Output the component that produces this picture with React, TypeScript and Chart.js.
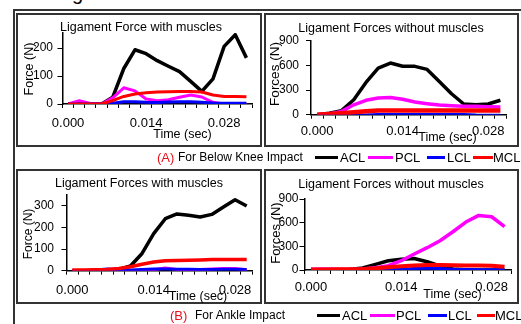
import React, { useEffect, useRef } from 'react';
import { Chart, registerables } from 'chart.js';

Chart.register(...registerables);

// ---------- data ----------
const seriesNames = ['ACL', 'PCL', 'LCL', 'MCL'];
const seriesColors = ['#000000', '#FF00FF', '#0000FF', '#FF0000'];

// time samples (sec)
const timeKneeWith = [0, 0.002, 0.004, 0.006, 0.008, 0.010, 0.012, 0.014, 0.016, 0.018, 0.020, 0.022, 0.024, 0.026, 0.028, 0.030, 0.032];
const timeStd = [0, 0.002, 0.004, 0.006, 0.008, 0.010, 0.012, 0.014, 0.016, 0.018, 0.020, 0.022, 0.024, 0.026, 0.028, 0.030];

// (A) Below knee impact, with muscles
const kneeWithACL = [0, 0, 0, 0, 24, 127, 194, 180, 155, 135, 116, 81, 45, 90, 206, 248, 165];
const kneeWithPCL = [0, 12, 2, 0, 22, 58, 47, 18, 12, 15, 24, 32, 25, 6, 0, 0, 0];
const kneeWithLCL = [0, 0, 0, 0, 3, 8, 8, 6, 5, 7, 8, 8, 6, 4, 3, 3, 3];
const kneeWithMCL = [0, 0, 0, 0, 12, 27, 36, 40, 43, 44, 45, 45, 43, 32, 27, 27, 26];

// (A) Below knee impact, without muscles
const kneeWithoutACL = [0, 17, 49, 182, 393, 567, 628, 590, 588, 551, 405, 255, 130, 122, 130, 176];
const kneeWithoutPCL = [0, 10, 40, 120, 175, 203, 210, 187, 154, 134, 117, 110, 102, 102, 98, 94];
const kneeWithoutLCL = [0, 0, 0, 0, 3, 8, 10, 10, 10, 10, 10, 10, 8, 2, 0, 0];
const kneeWithoutMCL = [0, 8, 18, 30, 42, 50, 52, 52, 52, 52, 52, 52, 52, 52, 52, 52];

// (B) Ankle impact, with muscles
const ankleWithACL = [0, 0, 0, 0, 6, 22, 80, 172, 241, 263, 257, 249, 261, 295, 329, 300];
const ankleWithPCL = [0, 0, 0, -2, -3, -3, 0, 5, 12, 6, 5, 5, 8, 10, 10, 5];
const ankleWithLCL = [0, 0, 3, 8, 5, 3, 6, 8, 8, 7, 7, 6, 6, 7, 7, 5];
const ankleWithMCL = [3, 3, 4, 6, 10, 18, 30, 40, 46, 47, 48, 50, 52, 52, 52, 52];

// (B) Ankle impact, without muscles
const ankleWithoutACL = [0, 0, 0, 5, 25, 72, 118, 135, 145, 105, 51, 12, 2, 0, 0, 0];
const ankleWithoutPCL = [10, 12, 10, 10, 13, 30, 55, 118, 203, 283, 371, 485, 608, 692, 675, 550];
const ankleWithoutLCL = [0, 0, 0, 0, 3, 6, 8, 10, 20, 25, 18, 10, 6, 4, 3, 2];
const ankleWithoutMCL = [5, 6, 8, 10, 14, 22, 35, 48, 58, 62, 62, 60, 58, 56, 55, 40];

// axis ticks
const xLabelValues = [0, 0.014, 0.028];
const xLabelTexts = ['0.000', '0.014', '0.028'];
const xCategoryStep = 0.002;
const yTicksKneeWith = [0, 100, 200];
const yTicksAnkleWith = [0, 100, 200, 300];
const yTicksWithout = [0, 300, 600, 900];

// ---------- layout ----------
const FONT = '"Liberation Sans", Arial, Helvetica, sans-serif';

type Box = { left: number; top: number; width: number; height: number };
type Plot = { left: number; top: number; right: number; bottom: number };
type PanelDef = {
  canvas: Box;
  plot: Plot;
  time: number[];
  series: number[][];
  yMax: number;
  yTicks: number[];
  yTickPad: number;
  xTickPad: number;
  xH: number;
  widths: number[];
};

const panels: PanelDef[] = [
  {
    canvas: { left: 18, top: 15, width: 242, height: 130 },
    plot: { left: 62.5, top: 33, right: 254.5, bottom: 104 },
    time: timeKneeWith,
    series: [kneeWithACL, kneeWithPCL, kneeWithLCL, kneeWithMCL],
    yMax: 254, yTicks: yTicksKneeWith, yTickPad: 4.5, xTickPad: 8, xH: 30,
    widths: [3.5, 3, 3, 3],
  },
  {
    canvas: { left: 266, top: 15, width: 251, height: 130 },
    plot: { left: 311, top: 40.7, right: 506.5, bottom: 114.7 },
    time: timeStd,
    series: [kneeWithoutACL, kneeWithoutPCL, kneeWithoutLCL, kneeWithoutMCL],
    yMax: 900, yTicks: yTicksWithout, yTickPad: 7, xTickPad: 5, xH: 25,
    widths: [3.5, 3.5, 2, 4.5],
  },
  {
    canvas: { left: 18, top: 172, width: 242, height: 130 },
    plot: { left: 66.5, top: 195.2, right: 255.5, bottom: 270.7 },
    time: timeStd,
    series: [ankleWithACL, ankleWithPCL, ankleWithLCL, ankleWithMCL],
    yMax: 350, yTicks: yTicksAnkleWith, yTickPad: 7.5, xTickPad: 7.5, xH: 25,
    widths: [3.5, 3, 3, 3.5],
  },
  {
    canvas: { left: 266, top: 172, width: 251, height: 130 },
    plot: { left: 304.5, top: 199, right: 516.5, bottom: 270 },
    time: timeStd,
    series: [ankleWithoutACL, ankleWithoutPCL, ankleWithoutLCL, ankleWithoutMCL],
    yMax: 900, yTicks: yTicksWithout, yTickPad: 1, xTickPad: 6, xH: 25,
    widths: [3.5, 3.5, 3, 4],
  },
];

const isLabelValue = (v: number) => xLabelValues.some((l) => Math.abs(l - v) < 1e-7);

function Panel({ def }: { def: PanelDef }) {
  const ref = useRef<HTMLCanvasElement>(null);
  useEffect(() => {
    const { canvas, plot, time } = def;
    const xMin = time[0] - xCategoryStep / 2;
    const xMax = time[time.length - 1] + xCategoryStep / 2;
    const boundaries: number[] = [];
    for (let k = 0; k <= time.length; k++) boundaries.push(+(xMin + k * xCategoryStep).toFixed(6));
    const allXTicks = [...boundaries, ...xLabelValues].sort((a, b) => a - b);

    const chart = new Chart(ref.current as HTMLCanvasElement, {
      type: 'line',
      data: {
        datasets: def.series.map((vals, i) => ({
          label: seriesNames[i],
          data: time.map((t, j) => ({ x: t, y: vals[j] })),
          borderColor: seriesColors[i],
          backgroundColor: seriesColors[i],
          borderWidth: def.widths[i],
          pointRadius: 0,
          tension: 0,
          fill: false,
          order: 4 - i,
          borderJoinStyle: 'round',
          borderCapStyle: 'butt',
        })),
      },
      options: {
        animation: false,
        responsive: false,
        maintainAspectRatio: false,
        devicePixelRatio: 1,
        events: [],
        layout: {
          padding: {
            left: 0,
            top: plot.top - canvas.top,
            right: canvas.left + canvas.width - plot.right,
            bottom: canvas.top + canvas.height - plot.bottom - def.xH,
          },
        },
        plugins: { legend: { display: false }, tooltip: { enabled: false }, title: { display: false } },
        scales: {
          x: {
            type: 'linear',
            min: xMin,
            max: xMax,
            afterFit: (s: any) => { s.height = def.xH; },
            afterBuildTicks: (s: any) => { s.ticks = allXTicks.map((v) => ({ value: v })); },
            ticks: {
              autoSkip: false,
              maxRotation: 0,
              minRotation: 0,
              padding: def.xTickPad,
              color: '#000',
              font: { family: FONT, size: 13 },
              callback: (value: any) => {
                const i = xLabelValues.findIndex((l) => Math.abs(l - Number(value)) < 1e-7);
                return i >= 0 ? xLabelTexts[i] : '';
              },
            },
            grid: {
              drawOnChartArea: false,
              drawTicks: true,
              tickLength: 4,
              lineWidth: 1,
              color: (ctx: any) => (ctx.tick && isLabelValue(ctx.tick.value) ? 'rgba(0,0,0,0)' : '#000'),
              tickColor: (ctx: any) => (ctx.tick && isLabelValue(ctx.tick.value) ? 'rgba(0,0,0,0)' : '#000'),
            },
            border: { display: true, color: '#000', width: 1.5 },
          },
          y: {
            type: 'linear',
            min: 0,
            max: def.yMax,
            afterFit: (s: any) => { s.width = plot.left - canvas.left; },
            afterBuildTicks: (s: any) => { s.ticks = def.yTicks.map((v) => ({ value: v })); },
            ticks: {
              padding: def.yTickPad,
              color: '#000',
              font: { family: FONT, size: 12 },
              callback: (value: any) => String(value),
            },
            grid: { drawOnChartArea: false, drawTicks: true, tickLength: 5, color: '#000', lineWidth: 1 },
            border: { display: true, color: '#000', width: 1.5 },
          },
        },
      } as any,
    });
    return () => chart.destroy();
  }, [def]);
  const c = def.canvas;
  return (
    <canvas
      ref={ref}
      width={c.width}
      height={c.height}
      style={{ position: 'absolute', left: c.left, top: c.top, width: c.width, height: c.height }}
    />
  );
}

function CText({ x, y, size, children, color = '#000', rotate = false }: any) {
  return (
    <div
      style={{
        position: 'absolute', left: x, top: y,
        transform: rotate ? 'translate(-50%,-50%) rotate(-90deg)' : 'translate(-50%,-50%)',
        fontFamily: FONT, fontSize: size, lineHeight: 1, whiteSpace: 'nowrap', color,
      }}
    >
      {children}
    </div>
  );
}

function LText({ x, y, size, children, color = '#000' }: any) {
  return (
    <div
      style={{
        position: 'absolute', left: x, top: y, transform: 'translateY(-50%)',
        fontFamily: FONT, fontSize: size, lineHeight: 1, whiteSpace: 'nowrap', color,
      }}
    >
      {children}
    </div>
  );
}

function Swatch({ x1, x2, y, color }: any) {
  return <div style={{ position: 'absolute', left: x1, top: y - 1.5, width: x2 - x1, height: 3, background: color }} />;
}

function Frame({ left, top, width, height }: any) {
  return (
    <div
      style={{
        position: 'absolute', left, top, width, height, boxSizing: 'border-box',
        border: '2px solid #333',
      }}
    />
  );
}

const legendA = { y: 157, tag: '(A)', tagX: 157, text: 'For Below Knee Impact', textX: 178,
  sw: [[315, 338], [368, 393], [427, 445], [473, 493]], lx: [340, 395, 447, 493] };
const legendB = { y: 315, tag: '(B)', tagX: 170, text: 'For Ankle Impact', textX: 195,
  sw: [[317, 340], [370, 395], [428, 447], [477, 495]], lx: [342, 396, 448, 495] };

function LegendRow({ L }: any) {
  return (
    <>
      <LText x={L.tagX} y={L.y} size={13} color="#E8101A">{L.tag}</LText>
      <LText x={L.textX} y={L.y} size={12}>{L.text}</LText>
      {seriesNames.map((n, i) => (
        <React.Fragment key={n}>
          <Swatch x1={L.sw[i][0]} x2={L.sw[i][1]} y={L.y} color={seriesColors[i]} />
          <LText x={L.lx[i]} y={L.y} size={13}>{n}</LText>
        </React.Fragment>
      ))}
    </>
  );
}

export default function App() {
  return (
    <div style={{ position: 'fixed', left: 0, top: 0, width: 521, height: 324, overflow: 'hidden', background: '#fff' }}>
      {/* cut-off heading above the figure */}
      <div style={{ position: 'absolute', left: 56.5, top: -17, fontFamily: FONT, fontSize: 20, lineHeight: '20px', whiteSpace: 'nowrap' }}>
        Ligament Forces
      </div>
      {/* outer frame */}
      <div style={{ position: 'absolute', left: 13, top: 9, width: 600, height: 400, borderLeft: '2px solid #333', borderTop: '2px solid #333' }} />
      <Frame left={16} top={13} width={246} height={134} />
      <Frame left={264} top={13} width={255} height={134} />
      <Frame left={16} top={169} width={246} height={135} />
      <Frame left={264} top={169} width={255} height={135} />

      {panels.map((p, i) => <Panel key={i} def={p} />)}

      {/* panel titles */}
      <CText x={141} y={27} size={12.5}>Ligament Force with muscles</CText>
      <CText x={391} y={28} size={12.5}>Ligament Forces without muscles</CText>
      <CText x={139} y={183} size={12.5}>Ligament Forces with muscles</CText>
      <CText x={391} y={184} size={12.5}>Ligament Forces without muscles</CText>

      {/* y axis titles */}
      <CText x={28.5} y={68.5} size={12.5} rotate>Force (N)</CText>
      <CText x={275} y={73.5} size={13.5} rotate>Forces (N)</CText>
      <CText x={28} y={234} size={12} rotate>Force (N)</CText>
      <CText x={275} y={232.5} size={13} rotate>Forces (N)</CText>

      {/* x axis titles */}
      <CText x={182.5} y={134} size={12.5}>Time (sec)</CText>
      <CText x={447.5} y={136.5} size={12.5}>Time (sec)</CText>
      <CText x={198} y={295.5} size={12.5}>Time (sec)</CText>
      <CText x={452.5} y={294} size={12.5}>Time (sec)</CText>

      <LegendRow L={legendA} />
      <LegendRow L={legendB} />
    </div>
  );
}
